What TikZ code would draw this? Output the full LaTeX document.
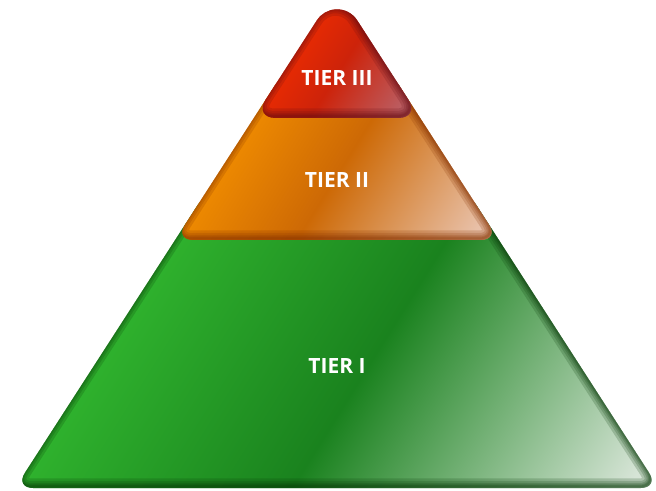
\documentclass[tikz,border=0pt]{standalone}
\usepackage{fontspec}
\setmainfont{Open Sans}

\definecolor{grnA}{RGB}{48,180,46}
\definecolor{grnB}{RGB}{26,130,30}
\definecolor{grnC}{RGB}{214,228,214}
\definecolor{grnrim}{RGB}{8,58,8}
\definecolor{orgA}{RGB}{242,142,0}
\definecolor{orgB}{RGB}{205,105,5}
\definecolor{orgC}{RGB}{232,192,168}
\definecolor{orgrim}{RGB}{135,50,0}
\definecolor{redA}{RGB}{240,45,0}
\definecolor{redB}{RGB}{205,35,10}
\definecolor{redC}{RGB}{185,100,108}
\definecolor{redrim}{RGB}{105,12,18}

\pgfdeclarehorizontalshading{grnshade}{100bp}{color(0bp)=(grnA); color(30bp)=(grnA); color(54bp)=(grnB); color(82bp)=(grnC); color(100bp)=(grnC)}
\pgfdeclarehorizontalshading{orgshade}{100bp}{color(0bp)=(orgA); color(30bp)=(orgA); color(52bp)=(orgB); color(80bp)=(orgC); color(100bp)=(orgC)}
\pgfdeclarehorizontalshading{redshade}{100bp}{color(0bp)=(redA); color(30bp)=(redA); color(52bp)=(redB); color(80bp)=(redC); color(100bp)=(redC)}

% outlines of the three tiers
\def\tierI{[rounded corners=18pt] (207.4,300) -- (15.1,2) -- (658.9,2) -- (466.6,300) -- cycle}
\def\tierII{[rounded corners=18pt] (284.8,420) -- (175.1,250) -- (498.9,250) -- (389.2,420) -- cycle}
\def\tierIII{(357.2,469.7) arc[start angle=32.83, end angle=147.17, radius=24] [rounded corners=22pt] -- (253.8,372) -- (420.2,372) -- (357.2,469.7)}

\begin{document}
\begin{tikzpicture}[x=1pt, y=1pt,
    lbl/.style={text=white, font=\bfseries\fontsize{21}{21}\selectfont}]
	\useasboundingbox (0,0) rectangle (656,490);

	\foreach \p/\s/\c in {\tierI/grnshade/grnrim, \tierII/orgshade/orgrim, \tierIII/redshade/redrim} {
		\shade[shading=\s, shading angle=-32] \p;
		\begin{scope}
			\clip \p;
			\foreach \w in {16,11,7,4,2}
				\draw[line width=\w pt, line cap=round, draw=\c, opacity=0.2, shift={(-1.5,1.5)}] \p;
		\end{scope}
	}

	\node[lbl] (tierIII) at (337,412) {TIER III};
	\node[lbl] (tierII) at (337,310) {TIER II};
	\node[lbl] (tierI) at (337,124) {TIER I};
\end{tikzpicture}
\end{document}
